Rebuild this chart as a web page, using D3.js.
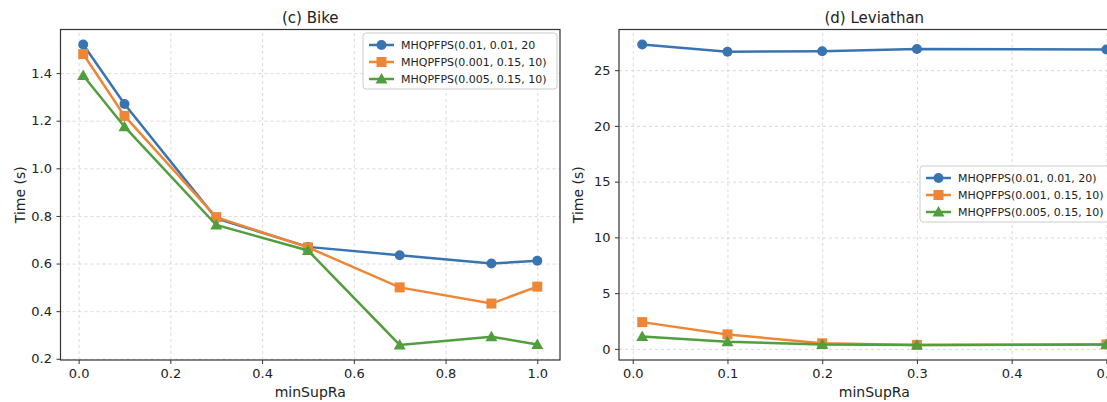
<!DOCTYPE html>
<html>
<head>
<meta charset="utf-8">
<script src="https://cdn.jsdelivr.net/npm/d3@7"></script>
<style>
  body { margin: 0; background: #fff; }
  svg { font-family: "DejaVu Sans", sans-serif; }
  .grid line { stroke: #d0d0d0; stroke-dasharray: 3,3; stroke-width: 0.8; }
  .grid .domain { display: none; }
  .axis line, .axis path { stroke: #333; }
</style>
</head>
<body>
<svg id="chart" width="1107" height="402"></svg>
<script>
// Series names
var seriesNames = ["MHQPFPS(0.01, 0.01, 20)", "MHQPFPS(0.001, 0.15, 10)", "MHQPFPS(0.005, 0.15, 10)"];
var seriesColors = ["#3a74b0", "#ef8636", "#519e3e"];
var seriesMarkers = ["circle", "square", "triangle"];

// (c) Bike
var bikeX = [0.01, 0.1, 0.3, 0.5, 0.7, 0.9, 1.0];
var bikeBlue = [1.52, 1.27, 0.79, 0.67, 0.635, 0.60, 0.612];
var bikeOrange = [1.48, 1.22, 0.795, 0.668, 0.50, 0.432, 0.503];
var bikeGreen = [1.39, 1.175, 0.762, 0.655, 0.258, 0.293, 0.26];
var bikeXTicks = [0.0, 0.2, 0.4, 0.6, 0.8, 1.0];
var bikeYTicks = [0.2, 0.4, 0.6, 0.8, 1.0, 1.2, 1.4];

// (d) Leviathan
var levX = [0.01, 0.1, 0.2, 0.3, 0.5];
var levBlue = [27.3, 26.65, 26.7, 26.9, 26.85];
var levOrange = [2.4, 1.3, 0.5, 0.35, 0.4];
var levGreen = [1.1, 0.65, 0.4, 0.35, 0.4];
var levXTicks = [0.0, 0.1, 0.2, 0.3, 0.4, 0.5];
var levYTicks = [0, 5, 10, 15, 20, 25];

var svg = d3.select("#chart");

function drawPanel(opt) {
  var left = opt.left, right = opt.right, top = 29.5, bottom = 360;
  var g = svg.append("g");

  // matplotlib style 5% margins
  var xr = d3.extent(opt.x);
  var xm = (xr[1] - xr[0]) * 0.05;
  var allY = d3.merge(opt.series);
  var yr = d3.extent(allY);
  var ym = (yr[1] - yr[0]) * 0.05;

  var x = d3.scaleLinear().domain([xr[0] - xm, xr[1] + xm]).range([left, right]);
  var y = d3.scaleLinear().domain([yr[0] - ym, yr[1] + ym]).range([bottom, top]);

  // grid
  g.append("g").attr("class", "grid")
    .attr("transform", "translate(0," + bottom + ")")
    .call(d3.axisBottom(x).tickValues(opt.xTicks).tickSize(-(bottom - top)).tickFormat(""));
  g.append("g").attr("class", "grid")
    .attr("transform", "translate(" + left + ",0)")
    .call(d3.axisLeft(y).tickValues(opt.yTicks).tickSize(-(right - left)).tickFormat(""));

  // frame
  g.append("rect")
    .attr("x", left).attr("y", top)
    .attr("width", right - left).attr("height", bottom - top)
    .attr("fill", "none").attr("stroke", "#333").attr("stroke-width", 1.2);

  // axes
  g.append("g").attr("class", "axis")
    .attr("transform", "translate(0," + bottom + ")")
    .call(d3.axisBottom(x).tickValues(opt.xTicks).tickSize(4).tickPadding(5).tickFormat(d3.format(".1f")))
    .attr("font-size", 13).attr("font-family", null)
    .call(function(a) { a.select(".domain").remove(); a.selectAll("text").attr("fill", "#222"); });
  g.append("g").attr("class", "axis")
    .attr("transform", "translate(" + left + ",0)")
    .call(d3.axisLeft(y).tickValues(opt.yTicks).tickSize(4).tickPadding(4.5).tickFormat(opt.yFormat))
    .attr("font-size", 13).attr("font-family", null)
    .call(function(a) { a.select(".domain").remove(); a.selectAll("text").attr("fill", "#222"); });

  // lines + markers
  var line = d3.line().x(function(d) { return x(d[0]); }).y(function(d) { return y(d[1]); });
  opt.series.forEach(function(vals, i) {
    var pts = opt.x.map(function(v, j) { return [v, vals[j]]; });
    g.append("path")
      .datum(pts)
      .attr("d", line)
      .attr("fill", "none")
      .attr("stroke", seriesColors[i])
      .attr("stroke-width", 2.5);
    pts.forEach(function(p) {
      drawMarker(g, seriesMarkers[i], x(p[0]), y(p[1]), seriesColors[i]);
    });
  });

  // title
  g.append("text")
    .attr("x", (left + right) / 2).attr("y", 22.5)
    .attr("text-anchor", "middle")
    .attr("font-size", 15).attr("fill", "#222")
    .text(opt.title);

  // axis labels
  g.append("text")
    .attr("x", (left + right) / 2).attr("y", 397)
    .attr("text-anchor", "middle")
    .attr("font-size", 14).attr("fill", "#222")
    .text("minSupRa");
  g.append("text")
    .attr("transform", "translate(" + (left - 36) + "," + ((top + bottom) / 2) + ") rotate(-90)")
    .attr("text-anchor", "middle")
    .attr("font-size", 14).attr("fill", "#222")
    .text("Time (s)");

  // legend
  var lg = g.append("g").attr("transform", "translate(" + opt.legendX + "," + opt.legendY + ")");
  lg.append("rect")
    .attr("x", 0).attr("y", 0)
    .attr("width", opt.legendW).attr("height", 56)
    .attr("rx", 3)
    .attr("fill", "#fff").attr("fill-opacity", 0.85)
    .attr("stroke", "#ccc");
  opt.legendLabels.forEach(function(name, i) {
    var ry = 12 + i * 17;
    lg.append("line")
      .attr("x1", 6).attr("x2", 31).attr("y1", ry).attr("y2", ry)
      .attr("stroke", seriesColors[i]).attr("stroke-width", 2.5);
    drawMarker(lg, seriesMarkers[i], 18.5, ry, seriesColors[i]);
    lg.append("text")
      .attr("x", 38).attr("y", ry + 4)
      .attr("font-size", 11).attr("fill", "#222")
      .text(name);
  });
}

function drawMarker(g, type, cx, cy, color) {
  if (type === "circle") {
    g.append("circle").attr("cx", cx).attr("cy", cy).attr("r", 5).attr("fill", color);
  } else if (type === "square") {
    g.append("rect").attr("x", cx - 5).attr("y", cy - 5).attr("width", 10).attr("height", 10).attr("fill", color);
  } else {
    g.append("path")
      .attr("d", "M" + cx + "," + (cy - 6) + "L" + (cx + 6) + "," + (cy + 4.5) + "L" + (cx - 6) + "," + (cy + 4.5) + "Z")
      .attr("fill", color);
  }
}

drawPanel({
  left: 60.5, right: 560,
  x: bikeX,
  series: [bikeBlue, bikeOrange, bikeGreen],
  xTicks: bikeXTicks, yTicks: bikeYTicks,
  yFormat: d3.format(".1f"),
  title: "(c) Bike",
  legendX: 363, legendY: 33, legendW: 194,
  legendLabels: ["MHQPFPS(0.01, 0.01, 20", seriesNames[1], seriesNames[2]]
});

drawPanel({
  left: 619, right: 1129.6,
  x: levX,
  series: [levBlue, levOrange, levGreen],
  xTicks: levXTicks, yTicks: levYTicks,
  yFormat: d3.format("d"),
  title: "(d) Leviathan",
  legendX: 920, legendY: 166, legendW: 200,
  legendLabels: seriesNames
});
</script>
</body>
</html>
